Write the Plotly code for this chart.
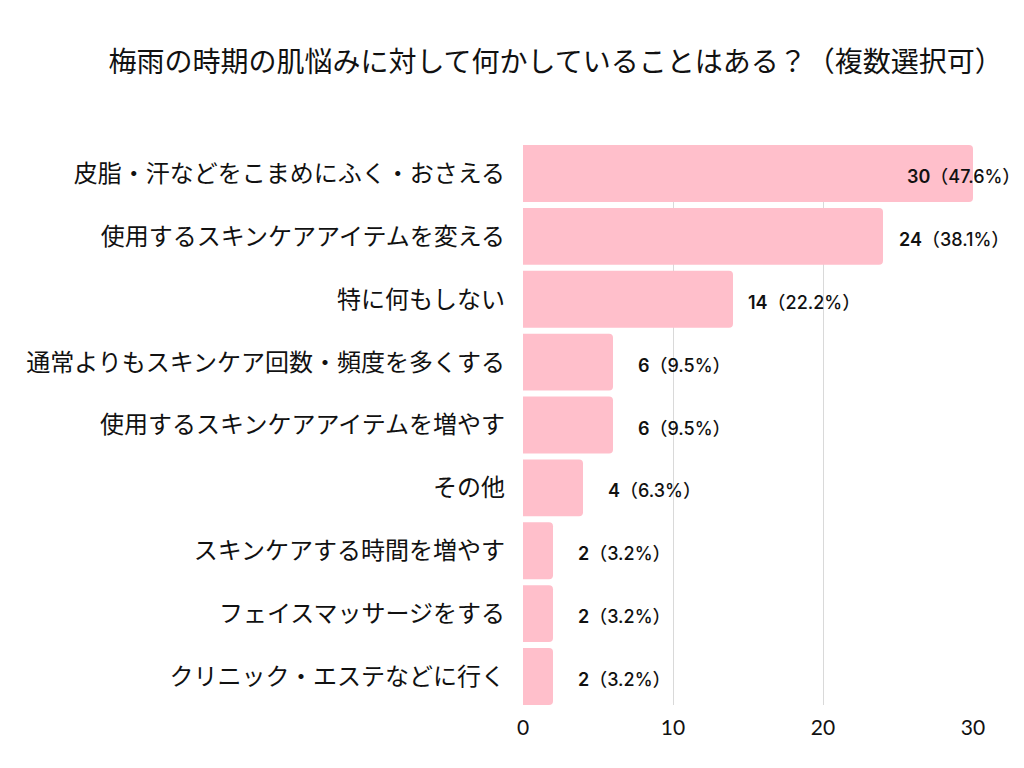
import plotly.graph_objects as go

categories = [
    "皮脂・汗などをこまめにふく・おさえる",
    "使用するスキンケアアイテムを変える",
    "特に何もしない",
    "通常よりもスキンケア回数・頻度を多くする",
    "使用するスキンケアアイテムを増やす",
    "その他",
    "スキンケアする時間を増やす",
    "フェイスマッサージをする",
    "クリニック・エステなどに行く",
]
counts = [30, 24, 14, 6, 6, 4, 2, 2, 2]
percents = [47.6, 38.1, 22.2, 9.5, 9.5, 6.3, 3.2, 3.2, 3.2]
tick_vals = [0, 10, 20, 30]

labels = [f"<span style='font-weight:600'>{c}</span>（{p}%）" for c, p in zip(counts, percents)]

bar_w = 0.905
n = len(categories)

fig = go.Figure()
fig.add_trace(go.Bar(
    y=categories, x=counts, orientation="h", width=bar_w,
    marker=dict(color="#FFBFCB", line=dict(width=0), cornerradius=4),
    hoverinfo="skip",
))

xmax = max(tick_vals)
lab_font = dict(family="Inter, Noto Sans CJK JP", size=18, color="#111", weight=500)
for c, cat, lab in zip(counts, categories, labels):
    if c >= xmax:
        fig.add_annotation(x=c, y=cat, text=lab, showarrow=False,
                           xanchor="right", xshift=49, yshift=-3, font=lab_font)
    else:
        fig.add_annotation(x=c, y=cat, text=lab, showarrow=False,
                           xanchor="center", xshift=71, yshift=-3, font=lab_font)

# compensate for the 8px body margin of the html page
fig.update_layout(
    width=1016, height=752,
    margin=dict(l=515, r=51, t=137, b=55, autoexpand=False),
    paper_bgcolor="white", plot_bgcolor="white",
    title=dict(text="梅雨の時期の肌悩みに対して何かしていることはある？（複数選択可）",
               x=0.539, xanchor="center", y=0.928, yanchor="middle",
               font=dict(family="Noto Sans CJK JP", size=28, color="#111")),
    showlegend=False,
    font=dict(family="Noto Sans CJK JP", color="#111"),
)
fig.update_xaxes(range=[0, xmax], tickvals=tick_vals, showgrid=True, gridcolor="#D9D9D9",
                 gridwidth=1, zeroline=False, showline=False,
                 tickfont=dict(family="Lato, Noto Sans", size=21, color="#111"), ticks="",
                 ticklabelstandoff=8)
fig.update_yaxes(range=[n - 1 + bar_w / 2, -bar_w / 2], showgrid=False, showline=False, ticks="",
                 tickfont=dict(family="Noto Sans CJK JP", size=24, color="#111"),
                 ticklabelstandoff=17)

fig.write_html("out.html")
